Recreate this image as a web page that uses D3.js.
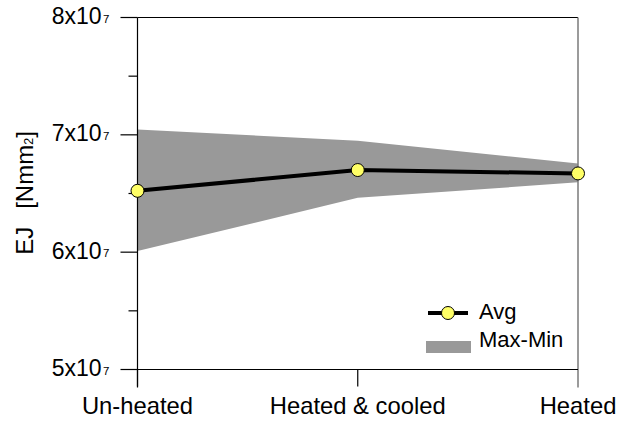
<!DOCTYPE html>
<html>
<head>
<meta charset="utf-8">
<script src="https://cdn.jsdelivr.net/npm/d3@7"></script>
<style>
  html, body { margin: 0; padding: 0; background: #fff; }
  svg { display: block; font-family: "Liberation Sans", Arial, sans-serif; }
</style>
</head>
<body>
<svg id="chart" width="636" height="421"></svg>
<script>
// Bending stiffness EJ for each treatment
const categories = ["Un-heated", "Heated & cooled", "Heated"];
const avgValues = [6.523e7, 6.700e7, 6.671e7];
const maxValues = [7.046e7, 6.949e7, 6.756e7];
const minValues = [6.009e7, 6.463e7, 6.595e7];
const yTickValues = [5e7, 6e7, 7e7, 8e7];
const yTickMantissa = ["5", "6", "7", "8"];
const yTickExponent = "7";
const yMinorTicks = [5.5e7, 6.5e7, 7.5e7];

const svg = d3.select("#chart");
const plotLeft = 137.5, plotRight = 578, plotTop = 17.5, plotBottom = 369.5;

const x = d3.scalePoint().domain(categories).range([plotLeft, plotRight]);
const y = d3.scaleLinear().domain([5e7, 8e7]).range([plotBottom, plotTop]);

const rows = categories.map((c, i) => ({ c, avg: avgValues[i], max: maxValues[i], min: minValues[i] }));

// Max-Min band
svg.append("path")
  .datum(rows)
  .attr("fill", "#999999")
  .attr("d", d3.area().x(d => x(d.c)).y0(d => y(d.min)).y1(d => y(d.max)));

// Frame: top and right borders
svg.append("line").attr("x1", plotLeft).attr("x2", plotRight).attr("y1", plotTop).attr("y2", plotTop)
  .attr("stroke", "#000").attr("stroke-width", 1.2);
svg.append("line").attr("x1", plotRight).attr("x2", plotRight).attr("y1", plotTop).attr("y2", plotBottom + 18)
  .attr("stroke", "#7a7a7a").attr("stroke-width", 1.5);

// Y axis
const yAxis = svg.append("g").attr("transform", `translate(${plotLeft},0)`);
yAxis.append("line").attr("x1", 0).attr("x2", 0).attr("y1", plotTop).attr("y2", plotBottom + 18)
  .attr("stroke", "#000").attr("stroke-width", 1.2);
yAxis.selectAll(".major").data(yTickValues).join("line")
  .attr("x1", -17).attr("x2", 0).attr("y1", d => y(d)).attr("y2", d => y(d))
  .attr("stroke", "#000").attr("stroke-width", 1.2);
yAxis.selectAll(".minor").data(yMinorTicks).join("line")
  .attr("x1", -9).attr("x2", 0).attr("y1", d => y(d)).attr("y2", d => y(d))
  .attr("stroke", "#000").attr("stroke-width", 1.2);
const yLabels = yAxis.selectAll(".ylab").data(yTickValues).join("text")
  .attr("x", -28).attr("y", d => y(d) + 6.5)
  .attr("text-anchor", "end").attr("font-size", 23).attr("fill", "#000");
yLabels.append("tspan").text((d, i) => yTickMantissa[i] + "x10");
yLabels.append("tspan").attr("font-size", 11.5).attr("dx", 1.5).attr("dy", -1.5).text(yTickExponent);

// X axis
const xAxis = svg.append("g").attr("transform", `translate(0,${plotBottom})`);
xAxis.append("line").attr("x1", plotLeft).attr("x2", plotRight).attr("y1", 0).attr("y2", 0)
  .attr("stroke", "#000").attr("stroke-width", 1.2);
xAxis.selectAll(".xt").data(categories.slice(0, 2)).join("line")
  .attr("x1", d => x(d)).attr("x2", d => x(d)).attr("y1", 0).attr("y2", 17)
  .attr("stroke", "#000").attr("stroke-width", 1.2);
xAxis.selectAll(".xlab").data(categories).join("text")
  .attr("x", d => x(d)).attr("y", 44)
  .attr("text-anchor", "middle").attr("font-size", 23.8).attr("fill", "#000")
  .text(d => d);

// Y axis title
const yTitle = svg.append("text")
  .attr("transform", "translate(33,193) rotate(-90)")
  .attr("text-anchor", "middle").attr("font-size", 24).attr("fill", "#000");
yTitle.append("tspan").text("EJ");
yTitle.append("tspan").attr("dx", 18).text("[Nmm");
yTitle.append("tspan").attr("font-size", 12.5).text("2");
yTitle.append("tspan").text("]");

// Average line and markers
svg.append("path")
  .datum(rows)
  .attr("fill", "none").attr("stroke", "#000").attr("stroke-width", 4)
  .attr("d", d3.line().x(d => x(d.c)).y(d => y(d.avg)));
svg.selectAll(".pt").data(rows).join("circle")
  .attr("cx", d => x(d.c)).attr("cy", d => y(d.avg)).attr("r", 6.5)
  .attr("fill", "#ffff66").attr("stroke", "#000").attr("stroke-width", 1);

// Legend
const lg = svg.append("g");
lg.append("line").attr("x1", 428).attr("x2", 468).attr("y1", 313).attr("y2", 313)
  .attr("stroke", "#000").attr("stroke-width", 4);
lg.append("circle").attr("cx", 448).attr("cy", 313).attr("r", 6.5)
  .attr("fill", "#ffff66").attr("stroke", "#000").attr("stroke-width", 1);
lg.append("text").attr("x", 479).attr("y", 319).attr("font-size", 22).text("Avg");
lg.append("rect").attr("x", 426).attr("y", 341).attr("width", 45).attr("height", 12)
  .attr("fill", "#999999");
lg.append("text").attr("x", 479).attr("y", 347).attr("font-size", 22).text("Max-Min");
</script>
</body>
</html>
